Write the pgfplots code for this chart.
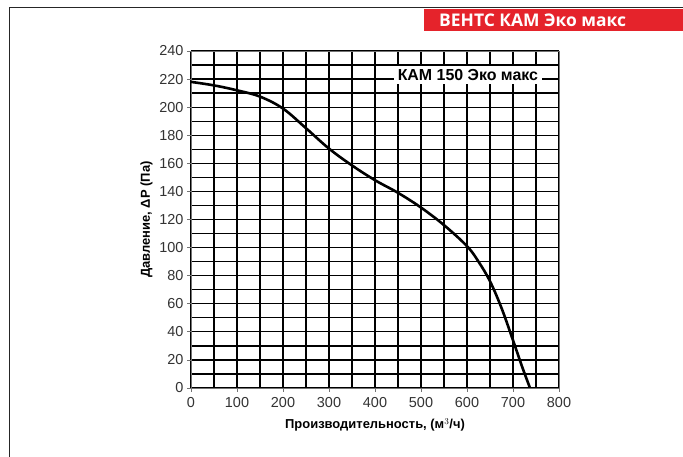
\documentclass[border=0pt]{standalone}
\usepackage{fontspec}
\setmainfont{Liberation Sans}
\newfontfamily\bannerfont{Open Sans}
\usepackage{pgfplots}
\pgfplotsset{compat=1.18}
\definecolor{ventsred}{HTML}{E5232B}
\definecolor{ticktxt}{HTML}{333333}
\begin{document}
\begin{tikzpicture}
\path[use as bounding box] (0,0) rectangle (683bp,457bp);
\draw[black!85, line width=0.9bp] (9.5bp,0) -- (9.5bp,450bp) -- (683bp,450bp);
\fill[ventsred] (424bp,426bp) rectangle (683bp,448bp);
\node[white, anchor=west, inner sep=0pt, font=\bannerfont\bfseries\fontsize{17.5}{18}\selectfont]
  at (439bp,437bp) {ВЕНТС КАМ Эко макс};
\begin{axis}[
    at={(191bp,69bp)}, anchor=south west,
    scale only axis, width=368bp, height=337bp,
    xmin=0, xmax=800, ymin=0, ymax=240,
    xtick={0,100,...,800}, ytick={0,20,...,240},
    minor xtick={50,150,250,350,450,550,650,750},
    minor ytick={10,30,50,70,90,110,130,150,170,190,210,230},
    grid=both,
    major grid style={black, line width=1.3bp},
    minor grid style={black, line width=1.3bp},
    axis line style={black!55, line width=0.8bp},
    tick style={black!55, line width=0.8bp},
    major tick length=4bp, minor tick length=0pt,
    tick align=outside,
    xtick pos=bottom, ytick pos=left,
    /pgf/number format/assume math mode=true,
    tick label style={font=\fontsize{14.5}{15}\selectfont, text=ticktxt},
    xticklabel style={yshift=-2bp},
    label style={font=\fontsize{13}{14}\selectfont, text=black},
    xlabel={\bfseries Производительность, (м$^3$/ч)},
    ylabel={\bfseries Давление, ΔP (Па)},
    xlabel style={yshift=-4bp},
]
\addplot[black, line width=2.6bp, smooth, tension=0.6] coordinates {
  (0,218) (50,215.5) (100,212) (150,207.5) (200,199) (250,185) (300,170.5)
  (350,158.5) (400,148) (450,139) (500,128.5) (550,116) (600,101) (625,90)
  (650,76) (675,57) (700,34) (720,15) (737,0)
};
\node[fill=white, inner xsep=4bp, inner ysep=3bp, font=\bfseries\fontsize{16}{17}\selectfont]
  at (axis cs:602,223) {КАМ 150 Эко макс};
\end{axis}
\end{tikzpicture}
\end{document}
